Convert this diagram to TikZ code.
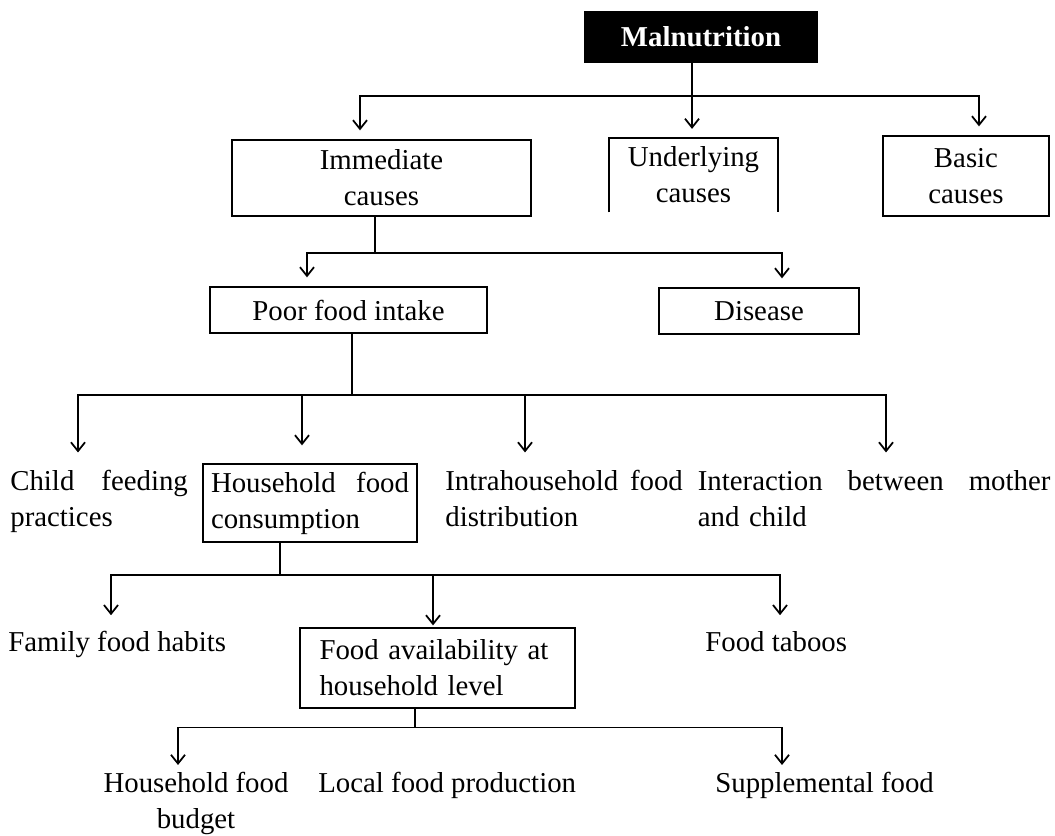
\documentclass[tikz,border=0pt]{standalone}
\usepackage{fontspec}
\setmainfont{Liberation Serif}
\usetikzlibrary{arrows.meta}

\begin{document}
\begin{tikzpicture}[
  font=\fontsize{16.4}{20.5}\selectfont,
  box/.style={draw, rectangle, line width=1pt, align=center, inner sep=0pt},
  factor/.style={inner sep=0pt, align=left},
  wire/.style={line width=1pt},
  down/.style={line width=1pt, -{Straight Barb[length=5pt,width=8pt]}, shorten >=5pt}
]
\useasboundingbox (0,0) rectangle (21.1,-16.7);

% top
\node[box, fill=black, text=white, font=\fontsize{16.4}{20.5}\selectfont\bfseries, minimum width=4.66cm, minimum height=1cm] (Mal) at (14.02,-0.74) {Malnutrition};

% causes
\node[box, minimum width=5.98cm, minimum height=1.52cm] (Imm) at (7.63,-3.56) {Immediate\\causes};
\node[align=center, inner sep=0pt, minimum width=3.38cm, minimum height=1.48cm] (Und) at (13.87,-3.5) {Underlying\\causes};
\draw[wire] (Und.south west) -- (Und.north west) -- (Und.north east) -- (Und.south east);
\node[box, minimum width=3.32cm, minimum height=1.6cm] (Bas) at (19.32,-3.52) {Basic\\causes};

\node[box, minimum width=5.54cm, minimum height=0.92cm] (Poor) at (6.97,-6.2) {Poor food intake};
\node[box, minimum width=4.0cm, minimum height=0.92cm] (Dis) at (15.18,-6.22) {Disease};

% food intake
\node[factor, anchor=north west, text width=3.55cm] (Child) at (0.2,-9.4) {Child\hfill feeding\\practices};
\node[box, align=left, text width=3.96cm, inner sep=0.16cm, minimum height=1.52cm] (HH) at (6.2,-10.06) {Household\hfill food\\consumption};
\node[factor, anchor=north west, text width=4.75cm] (Intra) at (8.9,-9.4) {Intrahousehold\hfill food\\distribution};
\node[factor, anchor=north west, text width=7.05cm] (Inter) at (13.95,-9.4) {Interaction\hfill between\hfill mother\\and child};

% consumption
\node[factor, anchor=north west] (Fam) at (0.16,-12.62) {Family food habits};
\node[box, align=left, text width=4.72cm, inner xsep=0.39cm, inner ysep=0pt, minimum height=1.6cm] (FA) at (8.75,-13.36) {Food availability at\\household level};
\node[factor, anchor=north west] (Tab) at (14.1,-12.62) {Food taboos};

% availability
\node[factor, anchor=north, align=center] (Bud) at (3.92,-15.44) {Household food\\budget};
\node[factor, anchor=north west] (Loc) at (6.36,-15.44) {Local food production};
\node[factor, anchor=north west] (Sup) at (14.3,-15.44) {Supplemental food};

% joints and arrow columns
\coordinate (j0) at (13.84,-1.92);
\coordinate (a1) at (7.2,-1.92);
\coordinate (a3) at (19.58,-1.92);
\coordinate (j1) at (7.5,-5.06);
\coordinate (a4) at (6.14,-5.06);
\coordinate (a5) at (15.64,-5.06);
\coordinate (j2) at (7.04,-7.9);
\coordinate (a6) at (1.56,-7.9);
\coordinate (a7) at (6.04,-7.9);
\coordinate (a8) at (10.5,-7.9);
\coordinate (a9) at (17.72,-7.9);
\coordinate (j3) at (5.6,-11.5);
\coordinate (a10) at (2.22,-11.5);
\coordinate (a11) at (8.66,-11.5);
\coordinate (a12) at (15.6,-11.5);
\coordinate (j4) at (8.3,-14.55);
\coordinate (a13) at (3.56,-14.55);
\coordinate (a14) at (15.64,-14.55);

\draw[down] (Mal.south -| j0) -- (Und.north -| j0);
\draw[down] (j0) -| (Imm.north -| a1);
\draw[down] (j0) -| (Bas.north -| a3);

\draw[wire] (Imm.south -| j1) -- (j1);
\draw[down] (j1) -| (Poor.north -| a4);
\draw[down] (j1) -| (Dis.north -| a5);

\draw[wire] (Poor.south -| j2) -- (j2);
\draw[down, shorten >=10pt] (j2) -| (Child.north -| a6);
\draw[down, shorten >=10pt] (j2) -| (HH.north -| a7);
\draw[down, shorten >=10pt] (j2) -| (Intra.north -| a8);
\draw[down, shorten >=10pt] (j2) -| (Inter.north -| a9);

\draw[wire] (HH.south -| j3) -- (j3);
\draw[down, shorten >=9pt] (j3) -| (Fam.north -| a10);
\draw[down, shorten >=1pt] (j3) -| (FA.north -| a11);
\draw[down, shorten >=9pt] (j3) -| (Tab.north -| a12);

\draw[wire] (FA.south -| j4) -- (j4);
\draw[down, shorten >=4pt] (j4) -| (Bud.north -| a13);
\draw[down, shorten >=4pt] (j4) -| (Sup.north -| a14);
\end{tikzpicture}
\end{document}
